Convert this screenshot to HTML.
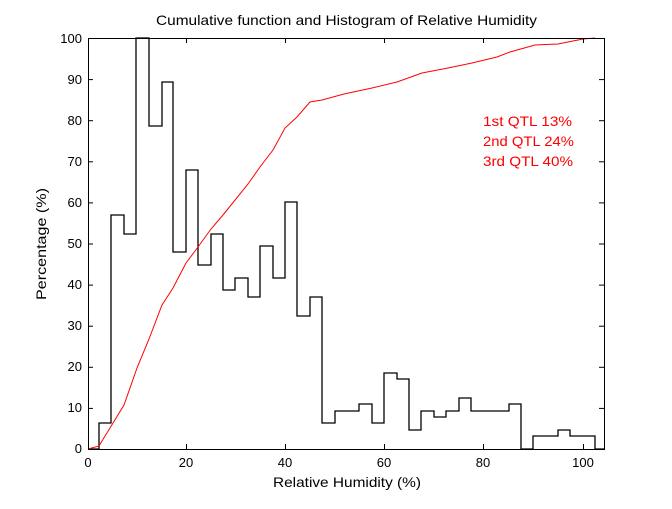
<!DOCTYPE html>
<html><head><meta charset="utf-8"><style>body{margin:0;background:#fff}</style></head><body>
<svg width="672" height="504" xmlns="http://www.w3.org/2000/svg" font-family="Liberation Sans, sans-serif" font-size="13">
<rect width="672" height="504" fill="#fff"/>
<text x="156" y="25" font-size="14" textLength="381" lengthAdjust="spacingAndGlyphs">Cumulative function and Histogram of Relative Humidity</text>
<polyline fill="none" stroke="#000" stroke-width="1.3" points="88,449 99,449 99,423 111,423 111,215 124,215 124,234 136,234 136,38 149,38 149,126 162,126 162,82 173,82 173,252 186,252 186,170 198,170 198,265 211,265 211,234 223,234 223,290 235,290 235,278 248,278 248,297 260,297 260,246 273,246 273,278 285,278 285,202 297,202 297,316 310,316 310,297 322,297 322,423 335,423 335,411 359,411 359,404 372,404 372,423 384,423 384,373 397,373 397,379 409,379 409,430 421,430 421,411 434,411 434,417 446,417 446,411 459,411 459,398 471,398 471,411 509,411 509,404 521,404 521,449 533,449 533,436 558,436 558,430 570,430 570,436 595,436 595,449 604,449"/>
<polyline fill="none" stroke="#f00" stroke-width="1" points="88,449 99,446 124,405 137,368 149,339 162,305 173,288 186,263 198,247 211,229 223,215 248,184 260,167 273,150 285,128 297,117 310,102 322,100 344,94 372,88 397,82 422,73 448,68 472,63 497,57 510,52 535,45 558,44 583,39 595,38"/>
<rect x="88.5" y="38.5" width="516" height="411" fill="none" stroke="#000" stroke-width="1"/>
<g stroke="#000" stroke-width="1">
<line x1="88" y1="79.6" x2="93" y2="79.6"/><line x1="88" y1="120.7" x2="93" y2="120.7"/><line x1="88" y1="161.8" x2="93" y2="161.8"/><line x1="88" y1="202.9" x2="93" y2="202.9"/><line x1="88" y1="244" x2="93" y2="244"/><line x1="88" y1="285.1" x2="93" y2="285.1"/><line x1="88" y1="326.2" x2="93" y2="326.2"/><line x1="88" y1="367.3" x2="93" y2="367.3"/><line x1="88" y1="408.4" x2="93" y2="408.4"/>
<line x1="604" y1="79.6" x2="599" y2="79.6"/><line x1="604" y1="120.7" x2="599" y2="120.7"/><line x1="604" y1="161.8" x2="599" y2="161.8"/><line x1="604" y1="202.9" x2="599" y2="202.9"/><line x1="604" y1="244" x2="599" y2="244"/><line x1="604" y1="285.1" x2="599" y2="285.1"/><line x1="604" y1="326.2" x2="599" y2="326.2"/><line x1="604" y1="367.3" x2="599" y2="367.3"/><line x1="604" y1="408.4" x2="599" y2="408.4"/>
<line x1="186.5" y1="449" x2="186.5" y2="444"/><line x1="285.5" y1="449" x2="285.5" y2="444"/><line x1="384.5" y1="449" x2="384.5" y2="444"/><line x1="483.5" y1="449" x2="483.5" y2="444"/><line x1="583.5" y1="449" x2="583.5" y2="444"/>
<line x1="186.5" y1="38" x2="186.5" y2="43"/><line x1="285.5" y1="38" x2="285.5" y2="43"/><line x1="384.5" y1="38" x2="384.5" y2="43"/><line x1="483.5" y1="38" x2="483.5" y2="43"/><line x1="583.5" y1="38" x2="583.5" y2="43"/>
</g>
<g text-anchor="end">
<text x="82" y="43">100</text><text x="82" y="84">90</text><text x="82" y="125">80</text><text x="82" y="166">70</text><text x="82" y="207">60</text><text x="82" y="248">50</text><text x="82" y="289">40</text><text x="82" y="330">30</text><text x="82" y="371">20</text><text x="82" y="412">10</text><text x="82" y="453">0</text>
</g>
<g text-anchor="middle">
<text x="88" y="467">0</text><text x="186" y="467">20</text><text x="285" y="467">40</text><text x="384" y="467">60</text><text x="483" y="467">80</text><text x="583" y="467">100</text>
</g>
<text x="273" y="487" font-size="14" textLength="148" lengthAdjust="spacingAndGlyphs">Relative Humidity (%)</text>
<text transform="translate(46,300) rotate(-90)" font-size="14" textLength="112" lengthAdjust="spacingAndGlyphs">Percentage (%)</text>
<g fill="#f00" font-size="14">
<text x="483" y="126" textLength="89" lengthAdjust="spacingAndGlyphs">1st QTL 13%</text>
<text x="483" y="146" textLength="91" lengthAdjust="spacingAndGlyphs">2nd QTL 24%</text>
<text x="483" y="166" textLength="90" lengthAdjust="spacingAndGlyphs">3rd QTL 40%</text>
</g>
</svg>
</body></html>
